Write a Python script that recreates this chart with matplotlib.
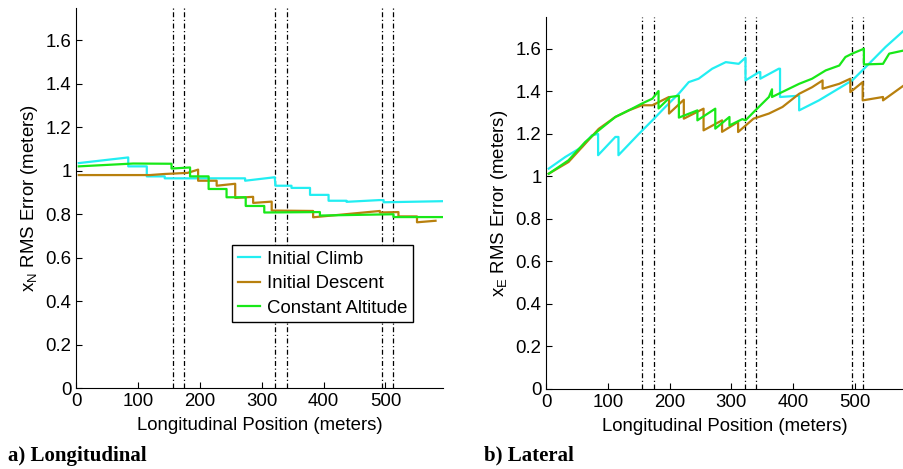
import matplotlib.pyplot as plt

plt.rcParams['font.family'] = ['Liberation Sans', 'DejaVu Sans']
plt.rcParams['mathtext.fontset'] = 'custom'
plt.rcParams['mathtext.rm'] = 'Liberation Sans'

series_names = ['Initial Climb', 'Initial Descent', 'Constant Altitude']
colors = ['#22eef2', '#b8800e', '#18e818']

# vertical reference lines (meters)
marks = [156, 174, 322, 340, 495, 513]

# a) longitudinal, breakpoints (step-like)
lon_climb_x = [4, 84, 84, 114, 114, 143, 143, 273, 273, 321, 322, 348, 348, 378, 378, 408, 408, 437, 437, 490, 497, 497, 593]
lon_climb_y = [1.035, 1.061, 1.02, 1.02, 0.974, 0.974, 0.965, 0.965, 0.954, 0.97, 0.931, 0.931, 0.921, 0.921, 0.889, 0.889, 0.862, 0.862, 0.857, 0.865, 0.865, 0.855, 0.86]
lon_desc_x = [4, 119, 143, 180, 197, 197, 227, 227, 257, 257, 286, 286, 316, 316, 383, 383, 491, 491, 521, 521, 551, 551, 581]
lon_desc_y = [0.98, 0.98, 0.985, 0.99, 1.005, 0.954, 0.954, 0.931, 0.94, 0.875, 0.88, 0.852, 0.858, 0.817, 0.815, 0.786, 0.815, 0.808, 0.81, 0.79, 0.79, 0.763, 0.77]
lon_const_x = [4, 92, 154, 154, 184, 184, 214, 214, 243, 243, 274, 274, 304, 304, 394, 394, 513, 513, 593]
lon_const_y = [1.02, 1.033, 1.032, 1.01, 1.015, 0.974, 0.974, 0.916, 0.916, 0.878, 0.878, 0.838, 0.838, 0.808, 0.81, 0.794, 0.8, 0.787, 0.787]

# b) lateral
lat_climb_x = [4, 31, 58, 74, 84, 84, 112, 117, 117, 150, 172, 193, 215, 231, 247, 269, 291, 312, 323, 323, 345, 347, 347, 377, 379, 379, 410, 410, 442, 469, 496, 518, 550, 580]
lat_climb_y = [1.037, 1.092, 1.139, 1.194, 1.2, 1.1, 1.186, 1.186, 1.1, 1.2, 1.264, 1.327, 1.39, 1.444, 1.46, 1.507, 1.538, 1.53, 1.559, 1.452, 1.491, 1.491, 1.46, 1.507, 1.507, 1.374, 1.38, 1.311, 1.358, 1.405, 1.452, 1.515, 1.609, 1.687]
lat_desc_x = [4, 36, 63, 85, 112, 134, 155, 172, 199, 199, 223, 223, 255, 255, 285, 285, 311, 311, 336, 361, 383, 410, 431, 448, 448, 475, 493, 493, 513, 513, 546, 546, 580]
lat_desc_y = [1.013, 1.068, 1.154, 1.224, 1.28, 1.311, 1.335, 1.335, 1.374, 1.296, 1.361, 1.272, 1.319, 1.217, 1.264, 1.21, 1.257, 1.209, 1.272, 1.296, 1.327, 1.389, 1.42, 1.452, 1.413, 1.436, 1.46, 1.397, 1.444, 1.358, 1.374, 1.358, 1.429]
lat_const_x = [4, 36, 63, 85, 112, 139, 155, 172, 182, 182, 201, 215, 215, 245, 245, 274, 274, 297, 297, 318, 323, 339, 361, 366, 366, 388, 410, 431, 453, 475, 485, 496, 515, 515, 546, 556, 580]
lat_const_y = [1.013, 1.076, 1.162, 1.217, 1.28, 1.319, 1.343, 1.366, 1.402, 1.32, 1.374, 1.38, 1.277, 1.311, 1.264, 1.319, 1.225, 1.28, 1.24, 1.27, 1.264, 1.311, 1.374, 1.41, 1.374, 1.405, 1.436, 1.46, 1.499, 1.522, 1.562, 1.578, 1.601, 1.527, 1.53, 1.578, 1.593]

fig = plt.figure(figsize=(9.04, 4.69), dpi=100)
ax1 = fig.add_axes([0.0844, 0.172, 0.4056, 0.812])
ax2 = fig.add_axes([0.6043, 0.1706, 0.3957, 0.793])

panels = [
    (ax1, [(lon_climb_x, lon_climb_y), (lon_desc_x, lon_desc_y), (lon_const_x, lon_const_y)], 593, 'N'),
    (ax2, [(lat_climb_x, lat_climb_y), (lat_desc_x, lat_desc_y), (lat_const_x, lat_const_y)], 580, 'E'),
]

fs = 13.4
for ax, data, xmax, sub in panels:
    for m in marks:
        ax.axvline(m, color='black', lw=0.9, ls=(0, (4, 2, 1, 2)), zorder=1)
    for (x, y), c, name in zip(data, colors, series_names):
        ax.plot(x, y, color=c, lw=1.6, label=name, zorder=2)
    ax.set_xlim(0, xmax)
    ax.set_ylim(0, 1.75)
    ax.set_xticks([0, 100, 200, 300, 400, 500])
    ax.set_yticks([0, 0.2, 0.4, 0.6, 0.8, 1, 1.2, 1.4, 1.6])
    ax.set_yticklabels(['0', '0.2', '0.4', '0.6', '0.8', '1', '1.2', '1.4', '1.6'])
    ax.spines['top'].set_visible(False)
    ax.spines['right'].set_visible(False)
    ax.tick_params(direction='in', labelsize=fs, length=4)
    ax.set_xlabel('Longitudinal Position (meters)', fontsize=fs, labelpad=5)
    ax.set_ylabel('x$_\\mathregular{' + sub + '}$ RMS Error (meters)', fontsize=fs, labelpad=4)

ax1.legend(loc='upper left', bbox_to_anchor=(0.4245, 0.376), fontsize=fs,
           fancybox=False, edgecolor='black', framealpha=1, handlelength=1.2,
           borderpad=0.3, labelspacing=0.4, handletextpad=0.4, borderaxespad=0)

fig.text(0.009, 0.028, 'a) Longitudinal', fontsize=15, fontweight='bold',
         family='Liberation Serif', va='center')
fig.text(0.535, 0.028, 'b) Lateral', fontsize=15, fontweight='bold',
         family='Liberation Serif', va='center')

fig.savefig('out.png', dpi=100)
